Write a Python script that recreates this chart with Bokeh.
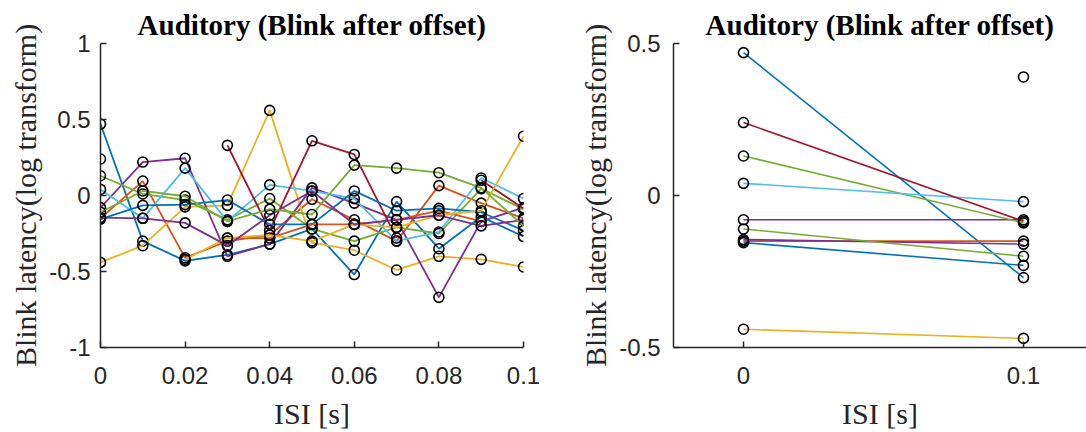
import numpy as np
from bokeh.plotting import figure
from bokeh.layouts import row
from bokeh.models import FixedTicker, Range1d
from bokeh.embed import file_html
from bokeh.resources import INLINE

nan = float("nan")

# ISI values (s)
isi = [0.0, 0.01, 0.02, 0.03, 0.04, 0.05, 0.06, 0.07, 0.08, 0.09, 0.1]

# Blink latency (log transform) per subject
s1 = [0.47, -0.30, -0.43, -0.39, -0.32, -0.22, -0.52, -0.04, -0.35, -0.14, -0.27]
s2 = [-0.15, 0.095, -0.41, -0.30, -0.26, -0.025, -0.16, -0.30, 0.065, -0.05, -0.15]
s3 = [-0.44, -0.33, -0.075, -0.065, 0.56, -0.31, -0.36, -0.49, -0.40, -0.42, -0.47]
s4 = [-0.08, 0.22, 0.245, -0.40, -0.32, 0.05, -0.05, -0.16, -0.67, -0.17, -0.08]
s5 = [0.13, 0.01, -0.03, -0.16, -0.02, -0.22, -0.30, -0.21, -0.25, 0.045, -0.09]
s6 = [0.04, -0.15, 0.18, -0.17, 0.07, 0.03, -0.02, -0.30, -0.24, 0.115, -0.02]
s7 = [0.24, nan, nan, 0.33, -0.23, 0.36, 0.27, -0.28, nan, 0.10, -0.085]
s8 = [-0.155, -0.065, -0.06, -0.03, -0.19, -0.19, 0.03, -0.10, -0.085, -0.11, -0.23]
s9 = [nan, nan, nan, -0.28, -0.28, -0.19, -0.19, -0.16, -0.10, -0.17, nan]
s10 = [nan, nan, -0.42, -0.28, -0.26, -0.30, -0.19, -0.21, -0.13, -0.10, 0.39]
s11 = [-0.145, -0.15, -0.18, -0.33, -0.13, 0.03, -0.19, -0.16, -0.13, -0.20, -0.16]
s12 = [-0.11, 0.03, -0.005, -0.17, -0.09, -0.125, 0.20, 0.18, 0.15, 0.05, -0.20]
series = [s1, s2, s3, s4, s5, s6, s7, s8, s9, s10, s11, s12]

# Right panel ISI values (first and last)
isi_pair = [0.0, 0.1]

colors = ["#0072BD", "#D95319", "#EDB120", "#7E2F8E", "#77AC30", "#4DBEEE", "#A2142F"]

title_text = "Auditory (Blink after offset)"
ylabel = "Blink latency(log transform)"
xlabel = "ISI [s]"

left_xticks = [0, 0.02, 0.04, 0.06, 0.08, 0.1]
left_xlabels = ["0", "0.02", "0.04", "0.06", "0.08", "0.1"]
left_yticks = [-1, -0.5, 0, 0.5, 1]
left_ylabels = ["-1", "-0.5", "0", "0.5", "1"]
right_xticks = [0, 0.1]
right_xlabels = ["0", "0.1"]
right_yticks = [-0.5, 0, 0.5]
right_ylabels = ["-0.5", "0", "0.5"]

AX = "#262626"
SERIF = "Liberation Serif"
SANS = "Liberation Sans"


def style(p, xt, xl, yt, yl, ystand):
    p.title.text = title_text
    p.title.text_font = SERIF
    p.title.text_font_size = "29px"
    p.title.text_font_style = "bold"
    p.title.align = "center"
    p.title.text_color = "#000000"
    p.title.standoff = 5
    p.title.offset = 0
    p.outline_line_color = None
    p.xgrid.visible = False
    p.ygrid.visible = False
    for ax, ticks, labels in ((p.xaxis[0], xt, xl), (p.yaxis[0], yt, yl)):
        ax.ticker = FixedTicker(ticks=ticks)
        ax.major_label_overrides = {t: s for t, s in zip(ticks, labels)}
        ax.axis_line_color = AX
        ax.axis_line_width = 1.5
        ax.major_tick_line_color = AX
        ax.major_tick_line_width = 1.5
        ax.major_tick_in = 6
        ax.major_tick_out = 0
        ax.minor_tick_line_color = None
        ax.major_label_text_font = SANS
        ax.major_label_text_font_size = "24px"
        ax.major_label_text_color = AX
        ax.axis_label_text_font = SERIF
        ax.axis_label_text_font_size = "30px"
        ax.axis_label_text_font_style = "normal"
        ax.axis_label_text_color = AX
    p.xaxis.axis_label = xlabel
    p.yaxis.axis_label = ylabel
    p.xaxis.major_label_standoff = 19
    p.yaxis.major_label_standoff = ystand
    p.xaxis.axis_label_standoff = 10
    p.yaxis.axis_label_standoff = 4


p1 = figure(width=560, height=432, output_backend="svg", toolbar_location=None,
            x_range=Range1d(0, 0.1), y_range=Range1d(-1, 1),
            min_border_left=100, min_border_right=37, min_border_top=40, min_border_bottom=85)
style(p1, left_xticks, left_xlabels, left_yticks, left_ylabels, 10)

for i, s in enumerate(series):
    c = colors[i % 7]
    p1.line(isi, s, line_color=c, line_width=1.8)
    p1.scatter(isi, s, marker="circle", size=10, fill_color=None, line_color="black", line_width=1.6)

p2 = figure(width=526, height=432, output_backend="svg", toolbar_location=None,
            x_range=Range1d(-0.025, 0.1225), y_range=Range1d(-0.5, 0.5),
            min_border_left=113, min_border_right=0, min_border_top=43, min_border_bottom=84)
style(p2, right_xticks, right_xlabels, right_yticks, right_ylabels, 13)

for i, s in enumerate(series):
    c = colors[i % 7]
    pair = [s[0], s[-1]]
    p2.line(isi_pair, pair, line_color=c, line_width=1.6)
    p2.scatter(isi_pair, pair, marker="circle", size=10, fill_color=None, line_color="black", line_width=1.6)

layout = row(p1, p2, spacing=0)
open("out.html", "w").write(file_html(layout, INLINE))
